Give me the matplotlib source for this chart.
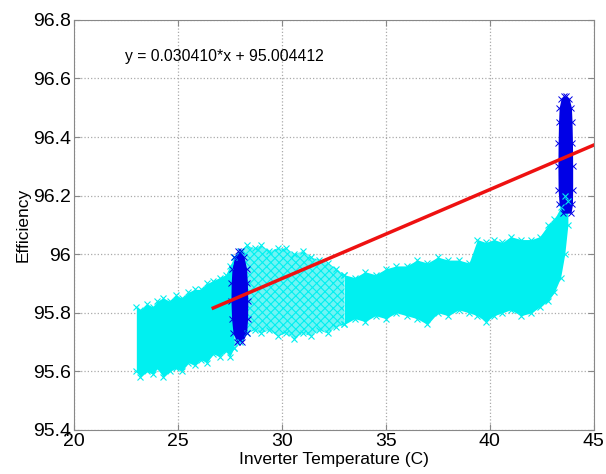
import matplotlib.pyplot as plt
import numpy as np

plt.rcParams['font.family'] = ['Liberation Sans', 'DejaVu Sans']
plt.rcParams['hatch.linewidth'] = 0.8

# fit line (from the annotation)
slope = 0.030410
intercept = 95.004412
fit_x = [26.7, 45.0]

# dense part of the cloud: x, lower and upper edge
dense_x = [23.0, 23.2, 23.5, 23.8, 24.0, 24.3, 24.6, 24.9, 25.2, 25.5, 25.8,
           26.1, 26.4, 26.7, 27.0, 27.3, 27.5, 27.7]
dense_lo = [95.60, 95.58, 95.60, 95.59, 95.61, 95.58, 95.60, 95.61, 95.60, 95.63,
            95.62, 95.64, 95.63, 95.66, 95.65, 95.67, 95.65, 95.68]
dense_hi = [95.82, 95.81, 95.83, 95.82, 95.84, 95.85, 95.84, 95.86, 95.85, 95.87,
            95.88, 95.88, 95.90, 95.91, 95.92, 95.93, 95.96, 95.99]

# sparse part (between the two clusters)
sparse_x = [27.7, 28.0, 28.3, 28.7, 29.0, 29.4, 29.8, 30.2, 30.6, 31.0, 31.4,
            31.8, 32.2, 32.6, 33.0]
sparse_lo = [95.68, 95.70, 95.73, 95.74, 95.73, 95.74, 95.72, 95.73, 95.71, 95.73,
             95.72, 95.74, 95.73, 95.75, 95.76]
sparse_hi = [95.99, 96.01, 96.03, 96.02, 96.03, 96.01, 96.02, 96.02, 96.00, 96.01,
             95.99, 95.98, 95.97, 95.95, 95.93]

# right dense part
right_x = [33.0, 33.5, 34.0, 34.5, 35.0, 35.5, 36.0, 36.5, 37.0, 37.5, 38.0,
           38.5, 39.0, 39.4, 39.8, 40.2, 40.6, 41.0, 41.5, 42.0, 42.4, 42.8,
           43.1, 43.4, 43.6, 43.75]
right_lo = [95.76, 95.78, 95.77, 95.79, 95.78, 95.80, 95.79, 95.78, 95.76, 95.80,
            95.79, 95.81, 95.80, 95.79, 95.77, 95.79, 95.80, 95.81, 95.79, 95.80,
            95.82, 95.84, 95.87, 95.92, 96.00, 96.10]
right_hi = [95.93, 95.92, 95.94, 95.93, 95.95, 95.96, 95.96, 95.98, 95.97, 95.99,
            95.98, 95.98, 95.97, 96.05, 96.04, 96.05, 96.04, 96.06, 96.05, 96.05,
            96.06, 96.10, 96.12, 96.16, 96.20, 96.18]

# dark blue clusters: y, left and right x edges
c1_y = [95.70, 95.73, 95.78, 95.84, 95.90, 95.95, 95.99, 96.01]
c1_l = [27.85, 27.65, 27.58, 27.55, 27.56, 27.60, 27.72, 27.88]
c1_r = [28.10, 28.30, 28.35, 28.36, 28.34, 28.30, 28.18, 28.02]

c2_y = [96.14, 96.17, 96.22, 96.30, 96.38, 96.45, 96.50, 96.53, 96.54]
c2_l = [43.50, 43.33, 43.28, 43.27, 43.28, 43.30, 43.33, 43.42, 43.55]
c2_r = [43.90, 43.97, 43.98, 43.98, 43.97, 43.95, 43.92, 43.82, 43.65]

fig = plt.figure(figsize=(6.06, 4.74), dpi=100)
ax = fig.add_axes([0.122, 0.093, 0.858, 0.865])

cyan = '#00f0f0'
ax.fill_between(dense_x, dense_lo, dense_hi, color=cyan, lw=0)
ax.fill_between(sparse_x, sparse_lo, sparse_hi, facecolor='#70f4f4', edgecolor=cyan,
                hatch='xxxx', lw=0)
ax.fill_between(right_x, right_lo, right_hi, color=cyan, lw=0)
for xs, lo, hi in [(dense_x, dense_lo, dense_hi), (sparse_x, sparse_lo, sparse_hi),
                   (right_x, right_lo, right_hi)]:
    ax.plot(xs, lo, 'x', color=cyan, ms=5, mew=0.8)
    ax.plot(xs, hi, 'x', color=cyan, ms=5, mew=0.8)

ax.fill_betweenx(c1_y, c1_l, c1_r, color='#0000e6', lw=0)
ax.fill_betweenx(c2_y, c2_l, c2_r, color='#0000e6', lw=0)
for ys, l, r in [(c1_y, c1_l, c1_r), (c2_y, c2_l, c2_r)]:
    ax.plot(l, ys, 'x', color='#0000e6', ms=4, mew=0.7)
    ax.plot(r, ys, 'x', color='#0000e6', ms=4, mew=0.7)

fx = np.array(fit_x)
ax.plot(fx, slope * fx + intercept, color='#ee1111', lw=2.5)

ax.text(22.45, 96.675, 'y = %.6f*x + %.6f' % (slope, intercept), fontsize=11.3,
        va='center')

ax.set_xlim(20, 45)
ax.set_ylim(95.4, 96.8)
ax.set_xticks([20, 25, 30, 35, 40, 45])
ax.set_yticks([95.4, 95.6, 95.8, 96.0, 96.2, 96.4, 96.6, 96.8])
ax.set_yticklabels(['95.4', '95.6', '95.8', '96', '96.2', '96.4', '96.6', '96.8'])
ax.tick_params(direction='in', top=True, right=True, labelsize=14, length=4,
               color='#888888', pad=2)
for s in ax.spines.values():
    s.set_color('#888888')
ax.grid(True, linestyle=':', color='#aaaaaa', lw=0.9)
ax.set_axisbelow(True)
ax.set_xlabel('Inverter Temperature (C)', fontsize=12.5, labelpad=2)
ax.set_ylabel('Efficiency', fontsize=12.5, labelpad=2)

fig.savefig('out.png', dpi=100)
